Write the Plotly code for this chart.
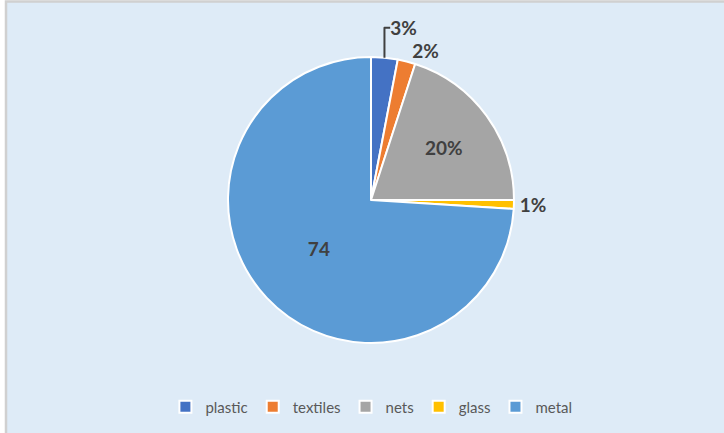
import plotly.graph_objects as go

categories = ["plastic", "textiles", "nets", "glass", "metal"]
values = [3, 2, 20, 1, 74]
label_text = ["3%", "2%", "20%", "1%", "74"]
colors = ["#4472C4", "#ED7D31", "#A5A5A5", "#FFC000", "#5B9BD5"]
text_pos = ["outside", "outside", "inside", "outside", "inside"]

W, H = 724, 433
cx, cy, r = 371, 200, 143
FONT = "Lato, Liberation Sans, sans-serif"
lab_font = dict(family=FONT, size=19, color="#404040", weight="bold")

fig = go.Figure(go.Pie(
    labels=categories,
    values=values,
    text=label_text,
    textinfo="text",
    textposition=text_pos,
    insidetextorientation="horizontal",
    sort=False,
    direction="clockwise",
    rotation=0,
    marker=dict(colors=colors, line=dict(color="white", width=2)),
    textfont=lab_font,
    insidetextfont=lab_font,
    outsidetextfont=lab_font,
    domain=dict(x=[(cx - r) / W, (cx + r) / W], y=[(H - cy - r) / H, (H - cy + r) / H]),
    hoverinfo="label+value",
    showlegend=True,
))

fig.update_layout(
    width=W, height=H,
    margin=dict(l=0, r=0, t=0, b=0),
    paper_bgcolor="white",
    plot_bgcolor="white",
    shapes=[dict(type="rect", xref="paper", yref="paper",
                 x0=6 / W, x1=1.05, y0=-0.05, y1=1 - 1.5 / H,
                 fillcolor="#DEEBF7", line=dict(color="#D0D0D0", width=2.5), layer="below")],
    legend=dict(orientation="h", x=0.513, xanchor="center", y=(H - 407) / H, yanchor="middle",
                font=dict(family=FONT, size=15, color="#595959"),
                itemwidth=30, bgcolor="rgba(0,0,0,0)", traceorder="normal"),
)

fig.write_html("out.html", config={"displayModeBar": False},
               post_script="document.body.style.margin='0';document.body.style.overflow='hidden';")
